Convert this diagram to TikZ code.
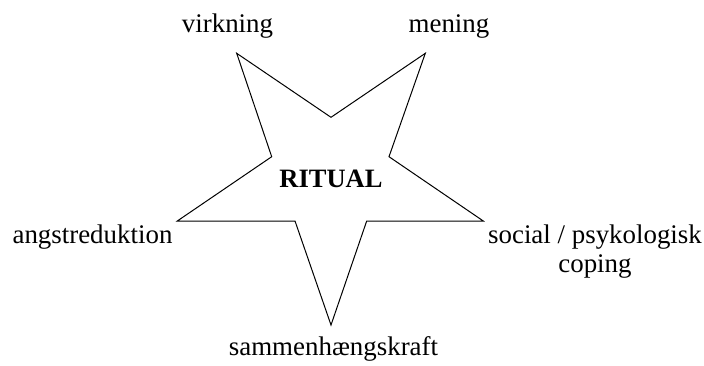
\documentclass[tikz,border=0pt]{standalone}
\usepackage{fontspec}
\setmainfont{Liberation Serif}
\begin{document}
\begin{tikzpicture}[x=1pt,y=-1pt,
  lbl/.style={inner sep=0pt, font=\fontsize{26.9}{29}\selectfont},
  starline/.style={draw=black, line width=1pt, line join=miter}]
\useasboundingbox (0,0) rectangle (704,365);
% star corners
\coordinate (tl) at (236.7,53.3);
\coordinate (ti) at (331,117.3);
\coordinate (tr) at (425.3,53.3);
\coordinate (ri) at (389,156.7);
\coordinate (rt) at (483.3,221);
\coordinate (rli) at (366.7,221);
\coordinate (bt) at (331,325);
\coordinate (lli) at (295,221);
\coordinate (lt) at (177.3,221);
\coordinate (li) at (271.7,156.7);
\draw[starline] (tl) -- (ti) -- (tr) -- (ri) -- (rt) -- (rli) -- (bt) -- (lli) -- (lt) -- (li) -- cycle;
\node[lbl, font=\fontsize{26.5}{29}\selectfont\bfseries, anchor=base] (ritual) at (331,187) {RITUAL};
\node[lbl, anchor=base] (virk) at (227.5,32) {virkning};
\node[lbl, anchor=base] (men) at (449,32) {mening};
\node[lbl, anchor=base] (angst) at (92.5,243) {angstreduktion};
\node[lbl, anchor=base] (soc) at (595,243) {social / psykologisk};
\node[lbl, anchor=base] (cop) at (595,272) {coping};
\node[lbl, anchor=base] (samm) at (333.5,355) {sammenhængskraft};
\end{tikzpicture}
\end{document}
